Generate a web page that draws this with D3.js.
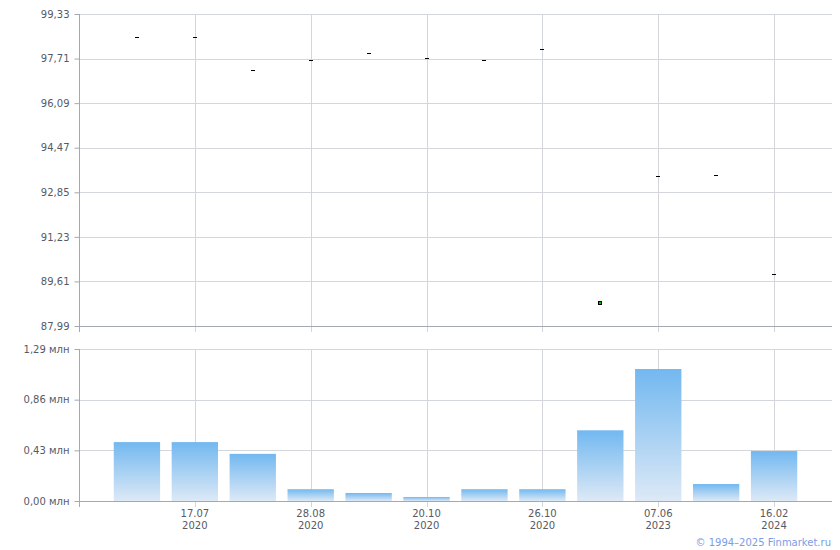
<!DOCTYPE html>
<html>
<head>
<meta charset="utf-8">
<script src="https://cdn.jsdelivr.net/npm/d3@7"></script>
<style>
  html, body { margin: 0; padding: 0; background: #fff; }
  svg { display: block; font-family: "DejaVu Sans", Verdana, sans-serif; }
</style>
</head>
<body>
<svg id="chart" width="840" height="550"></svg>
<script>
// ---- data ----
const tickDates = [null, "17.07", null, "28.08", null, "20.10", null, "26.10", null, "07.06", null, "16.02"];
const tickYears = [null, "2020", null, "2020", null, "2020", null, "2020", null, "2023", null, "2024"];
const prices = [98.48, 98.48, 97.28, 97.65, 97.90, 97.72, 97.65, 98.05, 88.82, 93.43, 93.47, 89.87];
const highlighted = [false, false, false, false, false, false, false, false, true, false, false, false];
const volumes = [0.50, 0.50, 0.40, 0.10, 0.068, 0.034, 0.10, 0.10, 0.60, 1.12, 0.144, 0.424];
const priceTicks = [87.99, 89.61, 91.23, 92.85, 94.47, 96.09, 97.71, 99.33];
const volumeTicks = [0, 0.43, 0.86, 1.29];

// ---- layout ----
const svg = d3.select("#chart");
const left = 79, right = 832;
const top1 = 14, bot1 = 326;
const top2 = 349, bot2 = 501;
const gridColor = "#d3d7dc", axisColor = "#a4a8b2", textColor = "#555a66";
const fmt = v => v.toFixed(2).replace(".", ",");

const idx = prices.map((d, i) => i);
const x = d3.scalePoint().domain(idx).range([left, right]).padding(1);
const y1 = d3.scaleLinear().domain([87.99, 99.33]).range([bot1, top1]);
const y2 = d3.scaleLinear().domain([0, 1.29]).range([bot2, top2]);
const gridIdx = idx.filter(i => tickDates[i] !== null);

// gradient
const defs = svg.append("defs");
const grad = defs.append("linearGradient").attr("id", "barGrad")
  .attr("x1", 0).attr("y1", 0).attr("x2", 0).attr("y2", 1);
grad.append("stop").attr("offset", "0%").attr("stop-color", "#72b8f0");
grad.append("stop").attr("offset", "100%").attr("stop-color", "#dde9f6");

function panel(yScale, ticks, yTop, yBot, labelFmt, content) {
  const g = svg.append("g");
  // horizontal grid
  g.append("g").selectAll("line").data(ticks).join("line")
    .attr("x1", left).attr("x2", right)
    .attr("y1", d => Math.round(yScale(d)) + 0.5).attr("y2", d => Math.round(yScale(d)) + 0.5)
    .attr("stroke", gridColor);
  // vertical grid
  g.append("g").selectAll("line").data(gridIdx).join("line")
    .attr("x1", d => Math.round(x(d)) + 0.5).attr("x2", d => Math.round(x(d)) + 0.5)
    .attr("y1", yTop).attr("y2", yBot + 6)
    .attr("stroke", gridColor);
  if (content) content(g.append("g"));
  // y axis
  const ax = d3.axisLeft(yScale).tickValues(ticks).tickSize(5).tickPadding(5).tickFormat(labelFmt);
  const ga = g.append("g").attr("transform", `translate(${left + 0.5},0)`).call(ax);
  ga.select(".domain").attr("stroke", axisColor).attr("d", `M0,${yTop}V${yBot + 6}`);
  ga.selectAll(".tick line").attr("stroke", axisColor);
  ga.selectAll(".tick text").attr("fill", textColor).attr("font-size", 10)
    .attr("font-family", "DejaVu Sans, Verdana, sans-serif");
  // bottom axis line
  g.append("line").attr("x1", left).attr("x2", right)
    .attr("y1", yBot + 0.5).attr("y2", yBot + 0.5).attr("stroke", axisColor);
  return g;
}

const bw = x.step() * 0.8;

panel(y1, priceTicks, top1, bot1, fmt, pm => {
  pm.selectAll("line").data(idx.filter(i => !highlighted[i])).join("line")
    .attr("x1", i => Math.round(x(i)) - 2).attr("x2", i => Math.round(x(i)) + 2)
    .attr("y1", i => Math.round(y1(prices[i])) + 0.5).attr("y2", i => Math.round(y1(prices[i])) + 0.5)
    .attr("stroke", "#000");
  pm.selectAll("rect").data(idx.filter(i => highlighted[i])).join("rect")
    .attr("x", i => Math.round(x(i)) - 1.5).attr("y", i => Math.round(y1(prices[i])) - 1.5)
    .attr("width", 3).attr("height", 3)
    .attr("fill", "#00c000").attr("stroke", "#000").attr("stroke-width", 1);
});

panel(y2, volumeTicks, top2, bot2, v => fmt(v) + " млн", gb => {
  gb.selectAll("rect").data(idx).join("rect")
    .attr("x", i => x(i) - bw / 2)
    .attr("width", bw)
    .attr("y", i => y2(volumes[i]))
    .attr("height", i => y2(0) - y2(volumes[i]))
    .attr("fill", "url(#barGrad)");
});

// x labels
const xl = svg.append("g").attr("fill", textColor).attr("font-size", 10).attr("text-anchor", "middle");
gridIdx.forEach(i => {
  xl.append("text").attr("x", x(i)).attr("y", 517).text(tickDates[i]);
  xl.append("text").attr("x", x(i)).attr("y", 529).text(tickYears[i]);
});

// copyright
svg.append("text").attr("x", 831).attr("y", 546).attr("text-anchor", "end")
  .attr("font-size", 10).attr("fill", "#7b9ce6").text("© 1994–2025 Finmarket.ru");
</script>
</body>
</html>
